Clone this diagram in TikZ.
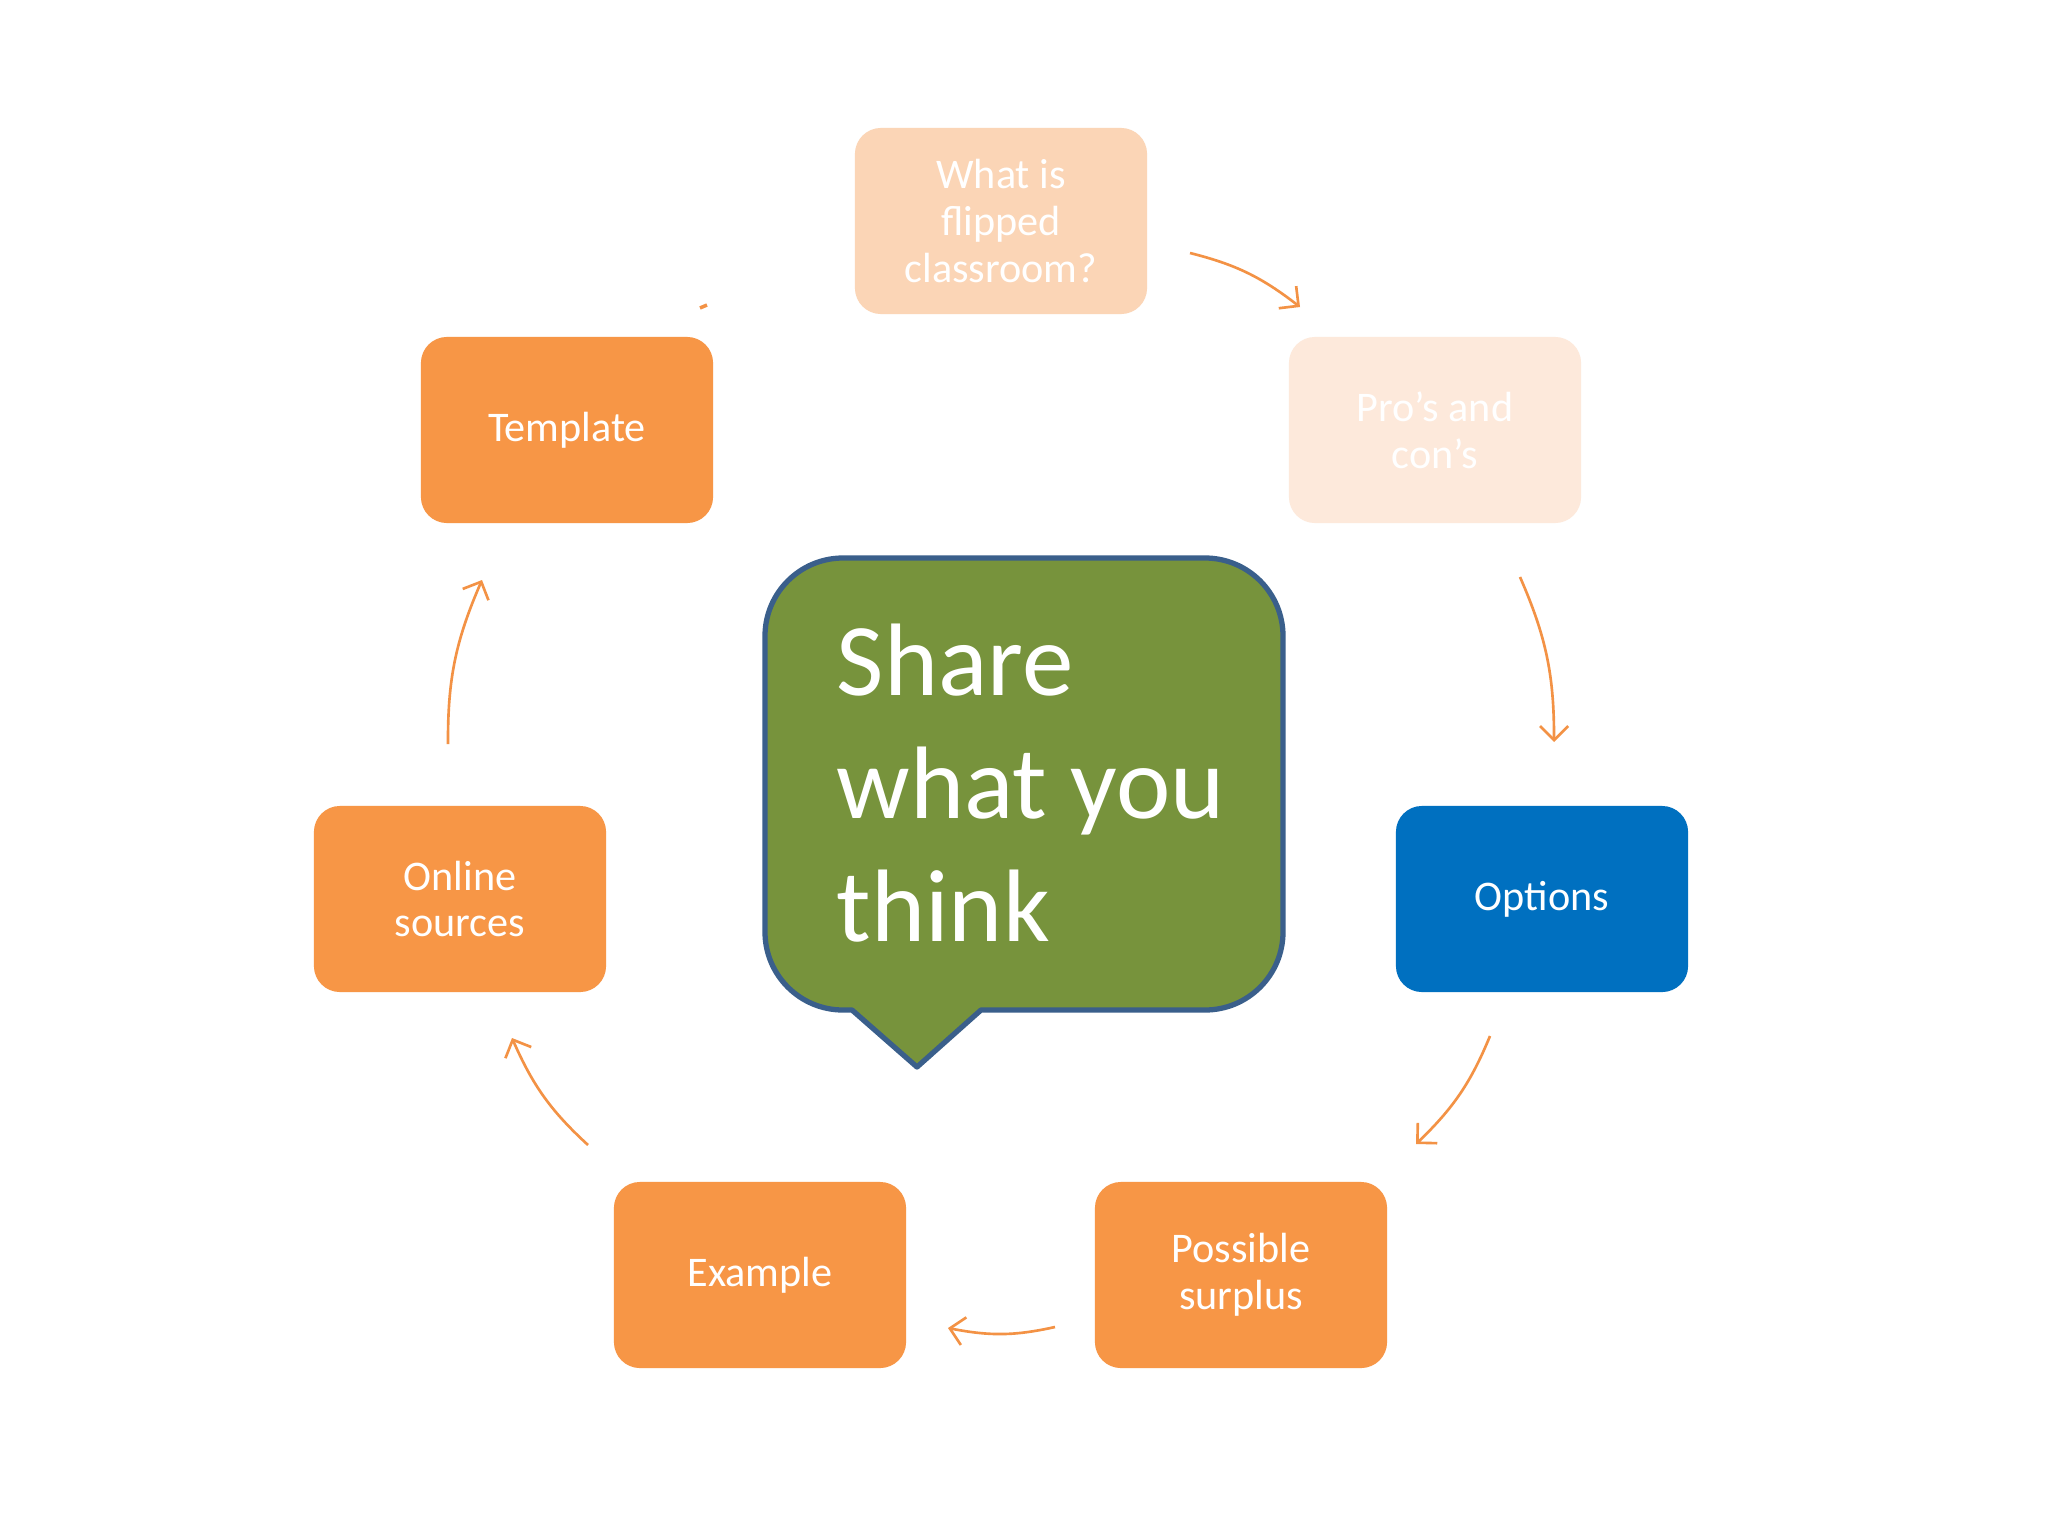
\documentclass[tikz,border=0pt]{standalone}
\usepackage{fontspec}
\setmainfont{Carlito}
\usetikzlibrary{arrows.meta,bending}
\definecolor{orng}{HTML}{F79646}
\definecolor{pale1}{HTML}{FBD5B6}
\definecolor{pale2}{HTML}{FDE9DB}
\definecolor{optblue}{HTML}{0070C0}
\definecolor{bubblegreen}{HTML}{77933C}
\definecolor{bubbleline}{HTML}{3A5F8B}
\definecolor{arrowc}{HTML}{F39245}
\tikzset{
  cyclebox/.style={rectangle, rounded corners=0.26cm, minimum width=2.92cm, minimum height=1.86cm, text=white, align=center, font=\fontsize{12}{13.3}\selectfont, inner sep=0pt},
  cyclearrow/.style={draw=arrowc, line width=0.75pt, -{Straight Barb[length=4pt,width=8pt]}, bend left=12},
  bubble/.style={fill=bubblegreen, draw=bubbleline, line width=1.5pt, line join=round},
}
\begin{document}
\begin{tikzpicture}[x=0.01cm,y=-0.01cm]
\useasboundingbox (0,0) rectangle (2048,1536);
\fill[white] (0,0) rectangle (2048,1536);

\node[cyclebox, fill=pale1] (wif) at (1001,221) {What is\\flipped\\classroom?};
\node[cyclebox, fill=pale2] (pros) at (1435,430) {Pro’s and\\con’s};
\node[cyclebox, fill=optblue] (opt) at (1542,899) {Options};
\node[cyclebox, fill=orng] (pos) at (1241,1275) {Possible\\surplus};
\node[cyclebox, fill=orng] (ex) at (760,1275) {Example};
\node[cyclebox, fill=orng] (onl) at (460,899) {Online\\sources};
\node[cyclebox, fill=orng] (tmp) at (567,430) {Template};

% speech bubble
\draw[bubble] (852,1010) -- (843,1010)
  arc[start angle=90, end angle=180, radius=78] -- (765,636)
  arc[start angle=180, end angle=270, radius=78] -- (1205,558)
  arc[start angle=270, end angle=360, radius=78] -- (1283,932)
  arc[start angle=0, end angle=90, radius=78] -- (981,1010)
  -- (917,1067) -- cycle;
\node[anchor=north west, inner sep=0pt, align=left, text=white,
  font=\fontsize{29.3}{35}\selectfont] (share) at (836,623) {Share\\what you\\think};

% connectors
\coordinate (a1s) at (1190,253); \coordinate (a1e) at (1300,307);
\coordinate (a2s) at (1520,577); \coordinate (a2e) at (1554,742);
\coordinate (a3s) at (1490,1036); \coordinate (a3e) at (1416,1144);
\coordinate (a4s) at (1055,1327); \coordinate (a4e) at (948,1328);
\coordinate (a5s) at (588,1145); \coordinate (a5e) at (512,1038);
\coordinate (a6s) at (448,744); \coordinate (a6e) at (482,580);
\coordinate (a7s) at (700,308); \coordinate (a7e) at (707,305);
\draw[cyclearrow] (a1s) to (a1e);
\draw[cyclearrow] (a2s) to (a2e);
\draw[cyclearrow] (a3s) to (a3e);
\draw[cyclearrow] (a4s) to (a4e);
\draw[cyclearrow] (a5s) to (a5e);
\draw[cyclearrow] (a6s) to (a6e);
\draw[draw=arrowc, line width=1pt] (a7s) -- (a7e);
\end{tikzpicture}
\end{document}
